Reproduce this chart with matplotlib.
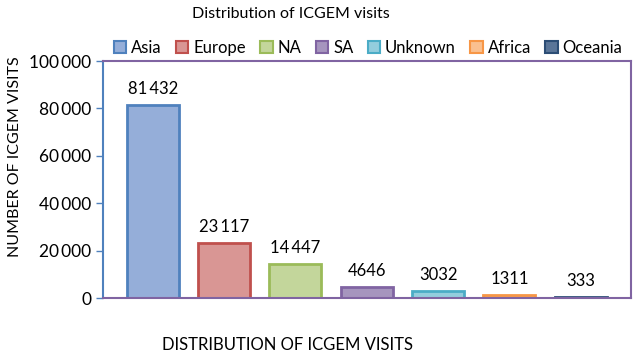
import matplotlib
matplotlib.use("Agg")
import matplotlib.pyplot as plt
from matplotlib.patches import Patch
from matplotlib.ticker import FuncFormatter

plt.rcParams['font.family'] = ['Lato', 'DejaVu Sans']

regions = ["Asia", "Europe", "NA", "SA", "Unknown", "Africa", "Oceania"]
visits = [81432, 23117, 14447, 4646, 3032, 1311, 333]
y_ticks = [0, 20000, 40000, 60000, 80000, 100000]

faces = ["#95aed9", "#d99694", "#c3d69b", "#a695be", "#93cddd", "#fac090", "#5a7598"]
edges = ["#4f81bd", "#c0504d", "#9bbb59", "#8064a2", "#4bacc6", "#f79646", "#2c4d75"]


def fmt(v, pos=None):
    v = int(v)
    if v < 10000:
        return str(v)
    return f"{v:,}".replace(",", "\u2009")


fig = plt.figure(figsize=(6.39, 3.57), dpi=100)
ax = fig.add_axes([0.161, 0.165, 0.826, 0.664])

x = list(range(len(regions)))
ax.bar(x, visits, width=0.73, color=faces, edgecolor=edges, linewidth=2)
for xi, v in zip(x, visits):
    ax.text(xi, v + 3500, fmt(v), ha="center", va="bottom", fontsize=12)

ax.set_xlim(-0.70, 6.70)
ax.set_ylim(0, 100000)
ax.set_yticks(y_ticks)
ax.yaxis.set_major_formatter(FuncFormatter(fmt))
ax.set_xticks([])
ax.tick_params(axis="y", labelsize=12.5, length=5, direction="out", color="#4f81bd", width=1)

for side in ["top", "right", "bottom"]:
    ax.spines[side].set_color("#8064a2")
    ax.spines[side].set_linewidth(1.5)
ax.spines["left"].set_color("#4f81bd")
ax.spines["left"].set_linewidth(1.5)

ax.set_ylabel("NUMBER OF ICGEM VISITS", fontsize=11.5)
ax.yaxis.set_label_coords(-0.153, 0.595)
fig.text(0.45, 0.033, "DISTRIBUTION OF ICGEM VISITS", ha="center", va="center", fontsize=12)
fig.text(0.455, 0.962, "Distribution of ICGEM visits", ha="center", va="center", fontsize=11.5)

handles = [Patch(facecolor=f, edgecolor=e, linewidth=1.5) for f, e in zip(faces, edges)]
fig.legend(handles, regions, loc="center", bbox_to_anchor=(0.576, 0.866), ncol=7,
           frameon=False, fontsize=12, handlelength=0.75, handleheight=0.75,
           handletextpad=0.3, columnspacing=0.85, borderpad=0)

fig.savefig("out.png", dpi=100)
